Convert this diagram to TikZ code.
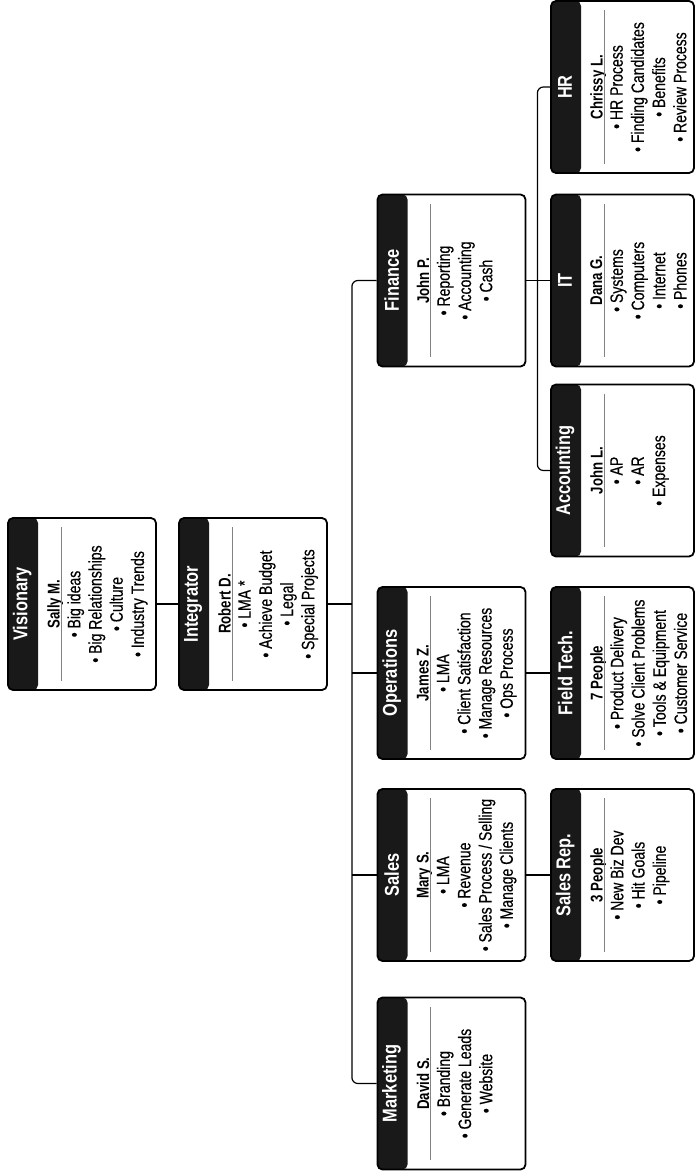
\documentclass[tikz,border=0pt]{standalone}
\usepackage{fontspec}
\setmainfont{Liberation Sans}[FakeStretch=0.78, UprightFeatures={FakeBold=0.3}]
\newfontfamily\headfont{Liberation Sans}[FakeStretch=0.82]
\usepackage{xcolor}
\usetikzlibrary{positioning, calc}

\begin{document}
\begin{tikzpicture}[x=1pt, y=-1pt,
        orgbox/.style={draw, line width=1.8pt, rounded corners=5pt, fill=white,
            minimum width=148pt, minimum height=172pt, inner sep=0pt,
            path picture={\fill[headblack] (path picture bounding box.north west)
                rectangle ([xshift=30pt]path picture bounding box.south west);}},
        boxtitle/.style={rotate=90, text=white, inner sep=0pt,
            font=\headfont\bfseries\fontsize{20}{22}\selectfont},
        boxname/.style={rotate=90, anchor=north, inner sep=0pt,
            font=\bfseries\fontsize{17}{20}\selectfont},
        boxlist/.style={rotate=90, anchor=north, inner sep=0pt, align=center,
            font=\fontsize{18}{21.2}\selectfont},
        link/.style={line width=1.2pt}]
        % Màu
        \definecolor{headblack}{RGB}{25, 25, 25}
        \definecolor{rulegray}{RGB}{130, 130, 130}

        % Khung trang
        \useasboundingbox (0,0) rectangle (696,1175);

        % 1. Các ô: tên / x / y / rộng / chức danh / người / nhiệm vụ
        \foreach \nm/\px/\py/\w/\ttl/\who/\items in {
            vis/82/604/148/Visionary/{Sally M.}/{• Big ideas\\• Big Relationships\\• Culture\\• Industry Trends},
            int/253/604/148/Integrator/{Robert D.}/{• LMA *\\• Achieve Budget\\• Legal\\• Special Projects},
            fin/451.5/280.5/148/Finance/{John P.}/{• Reporting\\• Accounting\\• Cash},
            ops/451.5/673/148/Operations/{James Z.}/{• LMA\\• Client Satisfaction\\• Manage Resources\\• Ops Process},
            sal/451.5/875/148/Sales/{Mary S.}/{• LMA\\• Revenue\\• Sales Process / Selling\\• Manage Clients},
            mkt/451.5/1083.5/148/Marketing/{David S.}/{• Branding\\• Generate Leads\\• Website},
            hr/622.5/87/143/HR/{Chrissy L.}/{• HR Process\\• Finding Candidates\\• Benefits\\• Review Process},
            it/622.5/280.5/143/IT/{Dana G.}/{• Systems\\• Computers\\• Internet\\• Phones},
            acc/622.5/470.5/143/Accounting/{John L.}/{• AP\\• AR\\• Expenses},
            ft/622.5/673/143/{Field Tech.}/{7 People}/{• Product Delivery\\• Solve Client Problems\\• Tools \& Equipment\\• Customer Service},
            srep/622.5/875/143/{Sales Rep.}/{3 People}/{• New Biz Dev\\• Hit Goals\\• Pipeline}} {
            \node[orgbox, minimum width=\w pt] (\nm) at (\px,\py) {};
            \node[boxtitle] (\nm-t) at ([xshift=15pt]\nm.west) {\ttl};
            \node[boxname] (\nm-n) at ([xshift=40pt]\nm.west) {\who};
            \draw[rulegray, line width=0.8pt] ([xshift=54pt, yshift=-10pt]\nm.north west)
                -- ([xshift=54pt, yshift=10pt]\nm.south west);
            \node[boxlist] (\nm-l) at ([xshift=60pt]\nm.west) {\items};
        }

        % 2. Đường nối
        \coordinate[right=24pt of int] (jn);
        \coordinate[right=11pt of fin] (fj);
        \draw[link] (vis) -- (int);
        \draw[link] (int) -- (jn);
        \draw[link, rounded corners=6pt] (fin.west) -| (jn) |- (mkt.west);
        \draw[link] (ops.west) -- (ops.west -| jn);
        \draw[link] (sal.west) -- (sal.west -| jn);
        \draw[link] (ops) -- (ft);
        \draw[link] (sal) -- (srep);
        \draw[link] (fin) -- (it);
        \draw[link, rounded corners=6pt] (hr.west) -| (fj) |- (acc.west);

    \end{tikzpicture}
\end{document}
